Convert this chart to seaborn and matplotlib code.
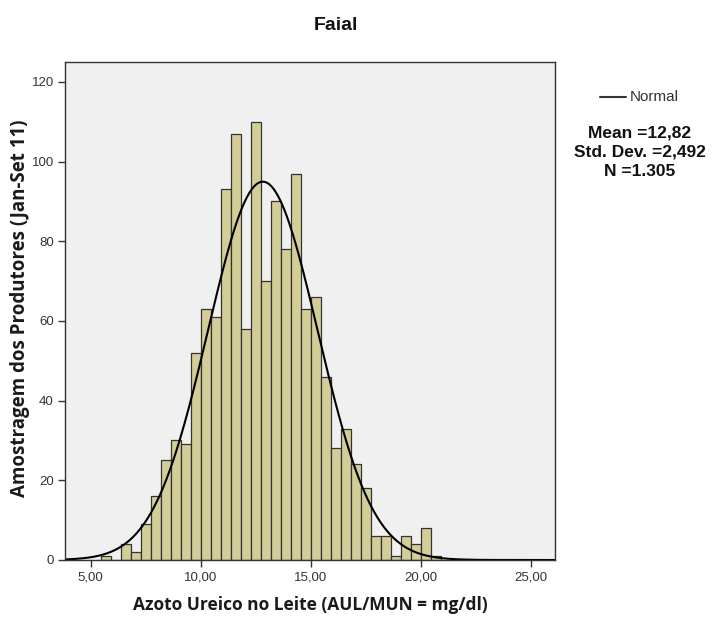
import numpy as np
import pandas as pd
import matplotlib
matplotlib.use("Agg")
import matplotlib.pyplot as plt
import seaborn as sns

# Histogram of milk urea nitrogen (MUN) samples, Faial
bin_start = 10.0 - 10 * 5 / 11   # first bin edge
bin_width = 5 / 11
counts = [1, 0, 4, 2, 9, 16, 25, 30, 29, 52, 63, 61, 93, 107, 58, 110, 70,
          90, 78, 97, 63, 66, 46, 28, 33, 24, 18, 6, 6, 1, 6, 4, 8, 1]
mean_val = 12.82
std_val = 2.492
n_val = 1305

x_ticks = [5, 10, 15, 20, 25]
x_tick_labels = ["5,00", "10,00", "15,00", "20,00", "25,00"]
y_ticks = [0, 20, 40, 60, 80, 100, 120]
stats_lines = ["Mean =12,82", "Std. Dev. =2,492", "N =1.305"]

edges = [float(e) for e in bin_start + bin_width * np.arange(len(counts) + 1)]
centers = [(a + b) / 2 for a, b in zip(edges[:-1], edges[1:])]
df = pd.DataFrame({"valor": centers, "n": counts})

sns.set_theme(style="ticks")
plt.rcParams["font.family"] = ["Liberation Sans", "DejaVu Sans"]

W, H = 712, 619
fig = plt.figure(figsize=(W / 100, H / 100), dpi=100)
ax = fig.add_axes([65 / W, 1 - 560 / H, 490 / W, 498 / H])
ax.set_facecolor("#F0F0F0")

sns.histplot(data=df, x="valor", weights="n", bins=edges, ax=ax,
             color="#D3CE97", edgecolor="#333333", linewidth=0.9, alpha=1.0)

# Fitted normal curve, scaled to counts per bin
xmin, xmax = 3.83, 26.1
xs = np.linspace(xmin, xmax, 600)
ys = n_val * bin_width / (std_val * np.sqrt(2 * np.pi)) * np.exp(-0.5 * ((xs - mean_val) / std_val) ** 2)
sns.lineplot(x=xs, y=ys, ax=ax, color="black", linewidth=1.5)

ax.set_xlim(xmin, xmax)
ax.set_ylim(0, 125)
ax.set_xticks(x_ticks)
ax.set_xticklabels(x_tick_labels)
ax.set_yticks(y_ticks)
ax.set_yticklabels([str(v) for v in y_ticks])
ax.tick_params(axis="both", direction="out", length=5, width=1, color="#333333",
               labelsize=9.5, labelcolor="#333333", pad=3)
for s in ax.spines.values():
    s.set_color("#333333")
    s.set_linewidth(1.0)

label_font = ["Open Sans", "DejaVu Sans"]
ax.set_xlabel("Azoto Ureico no Leite (AUL/MUN = mg/dl)", fontsize=12.5,
              fontweight="bold", family=label_font, color="#1a1a1a", va="center")
ax.xaxis.set_label_coords(0.5, (560 - 605) / 498)
ax.set_ylabel("Amostragem dos Produtores (Jan-Set 11)", fontsize=13.5,
              fontweight="bold", family=label_font, color="#1a1a1a", va="center")
ax.yaxis.set_label_coords((20 - 65) / 490, (560 - 308) / 498)

fig.text(336 / W, 1 - 26 / H, "Faial", ha="center", va="center",
         fontsize=14, fontweight="bold", color="#111111")

# Legend entry for the normal curve
fig.add_artist(plt.Line2D([600 / W, 626 / W], [1 - 97 / H, 1 - 97 / H],
                          color="#333333", linewidth=1.5, transform=fig.transFigure))
fig.text(630 / W, 1 - 97 / H, "Normal", ha="left", va="center",
         fontsize=11, color="#333333")

for line, base in zip(stats_lines, [137.3, 156.7, 176.0]):
    fig.text(640 / W, 1 - base / H, line, ha="center", va="baseline",
             fontsize=12.5, fontweight="bold", color="#111111")

fig.savefig("out.png", dpi=100, facecolor="white")
